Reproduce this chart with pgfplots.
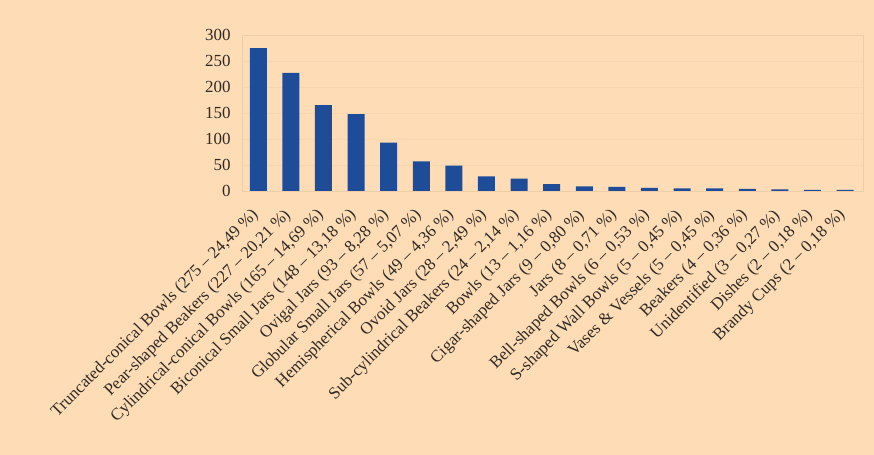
\documentclass[border=0pt]{standalone}
\usepackage{fontspec}
\setmainfont{Liberation Serif}
\usepackage{pgfplots}
\pgfplotsset{compat=1.18}
\definecolor{peach}{HTML}{FDDCB6}
\definecolor{barblue}{HTML}{1F4C98}
\definecolor{gridc}{HTML}{EDCCA6}
\definecolor{gridf}{HTML}{F7D6B0}
\definecolor{txt}{HTML}{302B27}
\begin{document}
\begin{tikzpicture}
\path[fill=peach, use as bounding box] (0bp,0bp) rectangle (874bp,455bp);
\begin{axis}[
  at={(242bp,264bp)}, anchor=south west,
  scale only axis, width=621bp, height=156bp,
  ymin=0, ymax=300, ytick={0,50,...,300},
  xmin=-0.5, xmax=18.55,
  xtick={0,...,18},
  xticklabels={
    {Truncated-conical Bowls (275 – 24,49 \%)},
    {Pear-shaped Beakers (227 – 20,21 \%)},
    {Cylindrical-conical Bowls (165 – 14,69 \%)},
    {Biconical Small Jars (148 – 13,18 \%)},
    {Ovigal Jars (93 – 8,28 \%)},
    {Globular Small Jars (57 – 5,07 \%)},
    {Hemispherical Bowls (49 – 4,36 \%)},
    {Ovoid Jars (28 – 2,49 \%)},
    {Sub-cylindrical Beakers (24 – 2,14 \%)},
    {Bowls (13 – 1,16 \%)},
    {Cigar-shaped Jars (9 – 0,80 \%)},
    {Jars (8 – 0,71 \%)},
    {Bell-shaped Bowls (6 – 0,53 \%)},
    {S-shaped Wall Bowls (5 – 0,45 \%)},
    {Vases \& Vessels (5 – 0,45 \%)},
    {Beakers (4 – 0,36 \%)},
    {Unidentified (3 – 0,27 \%)},
    {Dishes (2 – 0,18 \%)},
    {Brandy Cups (2 – 0,18 \%)}
  },
  ybar, bar width=17bp,
  axis line style={gridc},
  major tick length=0pt,
  ymajorgrids, grid style={gridf, line width=0.6pt},
  every tick label/.append style={font=\fontsize{17}{19}\selectfont, text=txt},
  yticklabel style={xshift=-8bp},
  xticklabel style={xshift=-8bp, yshift=-15bp, rotate=45, anchor=north east, inner sep=1bp},
  /pgf/number format/assume math mode=true,
]
\addplot[fill=barblue, draw=none] coordinates {
  (0,275) (1,227) (2,165) (3,148) (4,93) (5,57) (6,49) (7,28) (8,24) (9,13)
  (10,9) (11,8) (12,6) (13,5) (14,5) (15,4) (16,3) (17,2) (18,2)
};
\end{axis}
\end{tikzpicture}
\end{document}
